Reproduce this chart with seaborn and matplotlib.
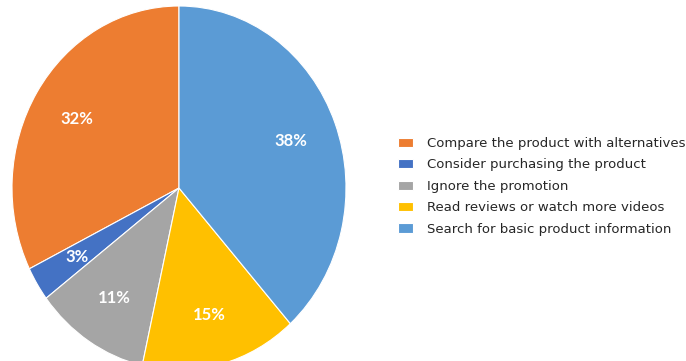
import matplotlib
matplotlib.use("Agg")
import matplotlib.pyplot as plt
import seaborn as sns

categories = [
    "Compare the product with alternatives",
    "Consider purchasing the product",
    "Ignore the promotion",
    "Read reviews or watch more videos",
    "Search for basic product information",
]
values = [32, 3, 11, 15, 38]
colors = ["#ED7D31", "#4472C4", "#A5A5A5", "#FFC000", "#5B9BD5"]

sns.set_theme(style="white")
plt.rcParams["font.family"] = ["DejaVu Sans"]
palette = sns.color_palette(colors)

W, H = 686, 361
fig = plt.figure(figsize=(W / 100, H / 100), dpi=100)
cx, cy = 179, 188
rx, ry = 167, 182
ax = fig.add_axes([(cx - rx) / W, (H - cy - ry) / H, 2 * rx / W, 2 * ry / H])

wedges, texts, autotexts = ax.pie(
    values,
    colors=palette,
    startangle=90,
    counterclock=True,
    autopct="%1.0f%%",
    pctdistance=0.72,
    wedgeprops=dict(edgecolor="white", linewidth=0.8),
    textprops=dict(color="white", fontsize=12, fontweight="bold",
                   family=["Lato", "DejaVu Sans"]),
)
ax.set_aspect("auto")
ax.set_xlim(-1, 1)
ax.set_ylim(-1, 1)
ax.axis("off")

fs = 9.5
fig.legend(
    wedges, categories,
    loc="center left",
    bbox_to_anchor=(398 / W, (H - 186.3) / H),
    frameon=False,
    fontsize=fs,
    borderpad=0,
    borderaxespad=0,
    handlelength=1.13,
    handleheight=0.7,
    handletextpad=1.05,
    labelspacing=0.64,
    labelcolor="#262626",
)

fig.savefig("out.png", dpi=100)
